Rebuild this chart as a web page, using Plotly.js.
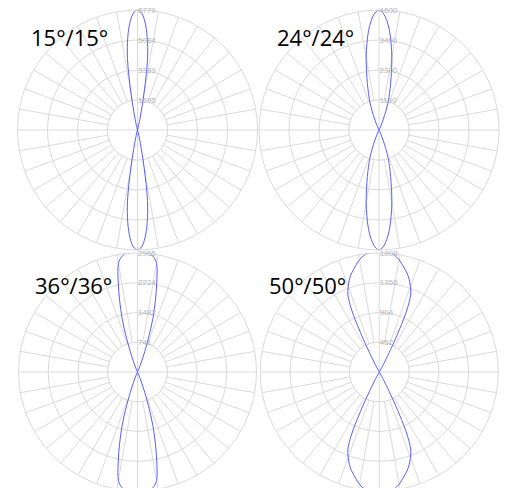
<!DOCTYPE html>
<html><head><meta charset="utf-8">
<script src="https://cdn.plot.ly/plotly-3.0.1.min.js"></script>
<style>html,body{margin:0;padding:0;overflow:hidden;background:#fff}#c{width:508px;height:492px}</style>
</head><body><div id="c"></div>
<script>
// Panel labels (beam angles)
const panelTitles = ['15°/15°', '24°/24°', '36°/36°', '50°/50°'];
// Radial tick values / labels per panel
const ticks15 = [1695, 3389, 5084, 6779];
const ticks24 = [1150, 2300, 3450, 4600];
const ticks36 = [741, 1482, 2224, 2965];
const ticks50 = [452, 904, 1356, 1808];
// Gamma angles (deg from beam axis)
const gamma15 = [-18,-16,-14,-12,-10,-8,-6,-4,-2,0,2,4,6,8,10,12,14,16,18];
const int15   = [0,56,226,791,2147,4068,5255,6100,6610,6779,6610,6100,5255,4068,2147,791,226,56,0];
const gamma24 = [-28,-26,-24,-22,-20,-18,-16,-14,-12,-10,-8,-6,-4,-2,0,2,4,6,8,10,12,14,16,18,20,22,24,26,28];
const int24   = [0,77,192,422,767,1150,1457,1840,2300,2836,3335,3833,4216,4485,4600,4485,4216,3833,3335,2836,2300,1840,1457,1150,767,422,192,77,0];
const gamma36 = [-26,-24,-22,-20,-18,-16,-14,-12,-10,-8,-6,-4,-2,0,2,4,6,8,10,12,14,16,18,20,22,24,26];
const int36   = [0,50,174,449,872,1396,1844,2318,2741,2891,2965,3003,3015,3015,3015,3003,2965,2891,2741,2318,1844,1396,872,449,174,50,0];
const gamma50 = [-32,-30,-28,-26,-24,-22,-20,-18,-16,-14,-12,-10,-8,-6,-4,-2,0,2,4,6,8,10,12,14,16,18,20,22,24,26,28,30,32];
const int50   = [0,30,152,547,1033,1276,1382,1473,1549,1610,1671,1732,1777,1808,1823,1838,1838,1838,1823,1808,1777,1732,1671,1610,1549,1473,1382,1276,1033,547,152,30,0];

const W = 508, H = 492;
const GRID = '#dadada';
const LINE = '#5b5bff';
// panel boxes in px: [cx, cy, radius]
const boxes = [[137.5,130,120],[379,130,120],[137.5,372,119],[379.3,372,119]];
const tickSets = [ticks15, ticks24, ticks36, ticks50];
const gammas = [gamma15, gamma24, gamma36, gamma50];
const ints = [int15, int24, int36, int50];
const titlePos = [[29,37],[275,37],[33,285],[267,285]];

const traces = [];
const layout = {width: W, height: H, margin:{l:0,r:0,t:0,b:0}, paper_bgcolor:'#fff', showlegend:false, annotations:[]};
const circ = []; for (let a=0; a<=360; a+=5) circ.push(a);

for (let i=0;i<4;i++){
  const key = i===0 ? 'polar' : 'polar'+(i+1);
  const [cx,cy,rad] = boxes[i];
  const tk = tickSets[i];
  layout[key] = {
    domain:{x:[(cx-rad)/W,(cx+rad)/W], y:[1-(cy+rad)/H, 1-(cy-rad)/H]},
    bgcolor:'rgba(0,0,0,0)',
    angularaxis:{rotation:90, direction:'clockwise', tickmode:'linear', dtick:10, showgrid:true, gridcolor:GRID, gridwidth:1,
      showline:true, linecolor:GRID, linewidth:1, ticks:'', showticklabels:false},
    radialaxis:{range:[0, tk[3]], tickmode:'array', tickvals:tk, ticktext:tk.map(String), showline:false, showgrid:true,
      gridcolor:GRID, gridwidth:1, angle:90, tickangle:90, ticks:'', tickfont:{family:'Liberation Sans', size:8, color:'#b5b5b5'}}
  };
  const sub = key;
  // hole covering inner spokes
  traces.push({type:'scatterpolar', subplot:sub, mode:'lines', theta:circ, r:circ.map(()=>tk[0]), fill:'toself',
    fillcolor:'#ffffff', line:{color:GRID, width:1}, hoverinfo:'skip'});
  // cross lines through centre
  traces.push({type:'scatterpolar', subplot:sub, mode:'lines', theta:[0,180,null,90,270], r:[tk[0],tk[0],null,tk[0],tk[0]],
    line:{color:GRID, width:1}, connectgaps:false, hoverinfo:'skip'});
  // light distribution curve (upper and lower lobes)
  const g = gammas[i], v = ints[i];
  traces.push({type:'scatterpolar', subplot:sub, mode:'lines', theta:g.concat(g.map(x=>180+x)), r:v.concat(v),
    line:{color:LINE, width:1, shape:'spline', smoothing:1}, cliponaxis:false});
  layout.annotations.push({text:panelTitles[i], xref:'paper', yref:'paper', x:titlePos[i][0]/W, y:1-titlePos[i][1]/H,
    xanchor:'left', yanchor:'middle', showarrow:false, font:{family:'Open Sans', size:22, color:'#000'}});
}
Plotly.newPlot('c', traces, layout, {staticPlot:true});
</script></body></html>
